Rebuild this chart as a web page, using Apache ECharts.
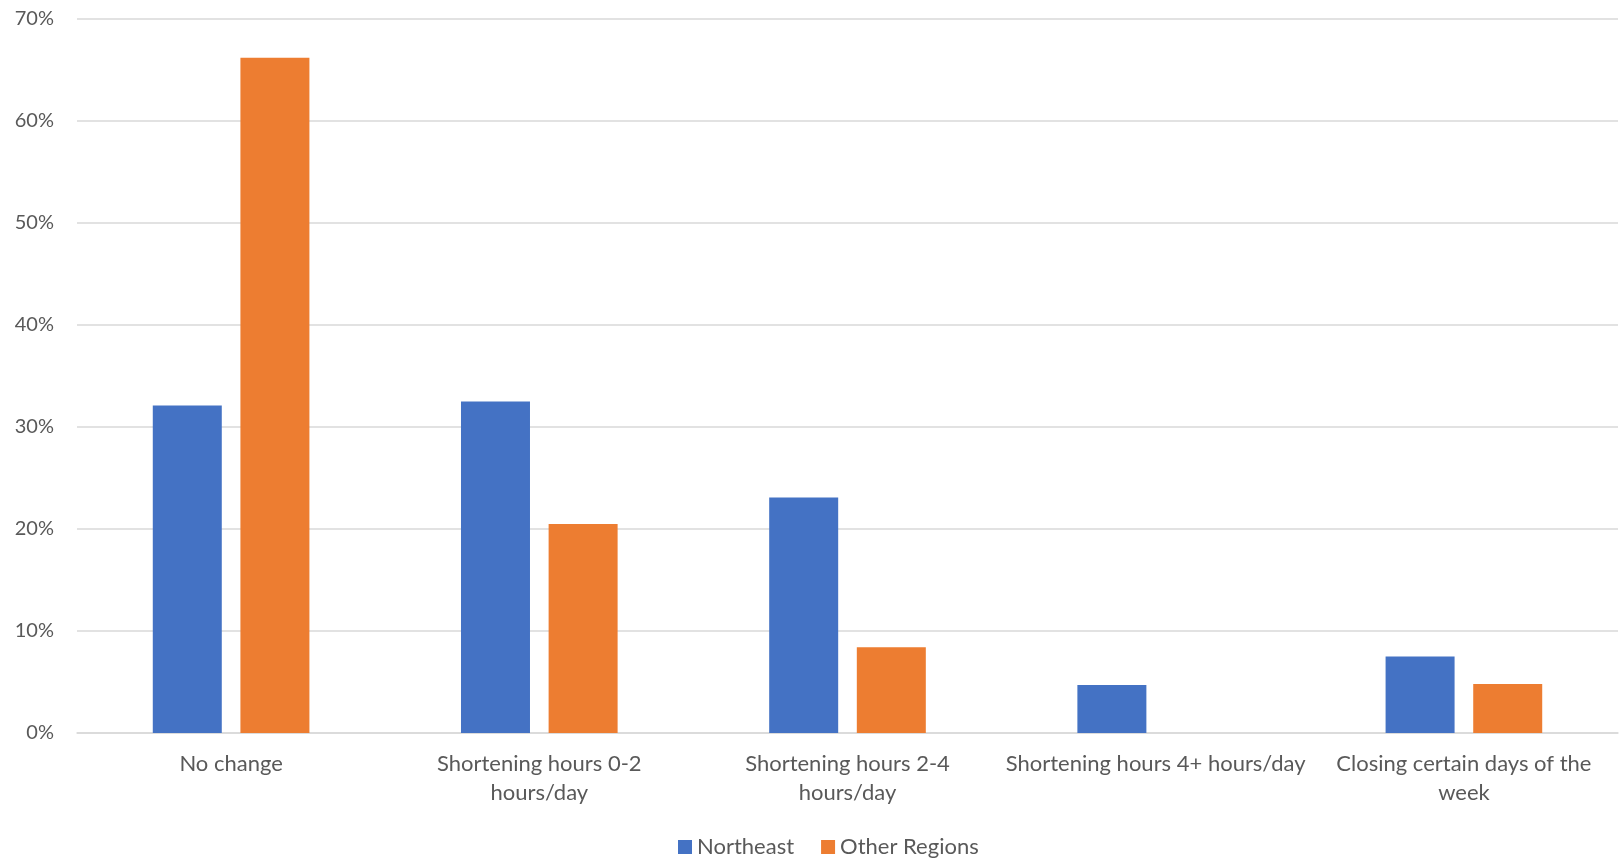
<!DOCTYPE html>
<html>
<head>
<meta charset="utf-8">
<script src="https://cdn.jsdelivr.net/npm/echarts@6/dist/echarts.min.js"></script>
<style>html,body{margin:0;padding:0;background:#fff;}#chart{width:1619px;height:858px;}</style>
</head>
<body>
<div id="chart"></div>
<script>
const categories = ["No change", "Shortening hours 0-2\nhours/day", "Shortening hours 2-4\nhours/day", "Shortening hours 4+ hours/day", "Closing certain days of the\nweek"];
const northeast = [32.1, 32.5, 23.1, 4.7, 7.5];
const otherRegions = [66.2, 20.5, 8.4, 0, 4.8];
const seriesNames = ["Northeast", "Other Regions"];
const yTicks = { min: 0, max: 70, interval: 10 };

const font = "Lato, 'Open Sans', sans-serif";
const chart = echarts.init(document.getElementById('chart'));
chart.setOption({
  animation: false,
  color: ['#4472C4', '#ED7D31'],
  grid: { left: 77, right: 1, top: 19, bottom: 125, containLabel: false },
  legend: {
    bottom: 0, left: 678, padding: 0,
    itemWidth: 14, itemHeight: 14, itemGap: 27,
    icon: 'rect',
    textStyle: { fontFamily: font, fontSize: 22, color: '#595959' },
    data: seriesNames
  },
  xAxis: {
    type: 'category', data: categories,
    axisLine: { show: true, lineStyle: { color: '#d9d9d9', width: 1.5 } },
    axisTick: { show: false },
    axisLabel: { interval: 0, fontFamily: font, fontSize: 22, color: '#595959', lineHeight: 29, margin: 16 }
  },
  yAxis: {
    type: 'value', min: yTicks.min, max: yTicks.max, interval: yTicks.interval,
    axisLine: { show: false }, axisTick: { show: false },
    splitLine: { lineStyle: { color: '#d9d9d9', width: 1.5 } },
    axisLabel: { formatter: '{value}%', fontFamily: font, fontSize: 20, color: '#595959', margin: 23 }
  },
  series: [
    { name: seriesNames[0], type: 'bar', data: northeast, barWidth: 69, barGap: '27%' },
    { name: seriesNames[1], type: 'bar', data: otherRegions, barWidth: 69, barGap: '27%' }
  ]
});
</script>
</body>
</html>
